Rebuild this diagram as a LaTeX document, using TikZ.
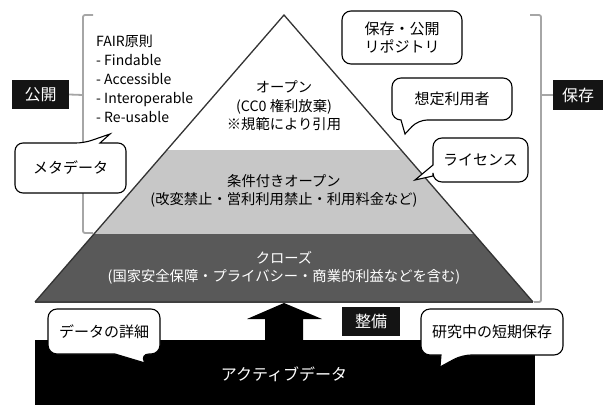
\documentclass[tikz,border=0pt]{standalone}
\usepackage{fontspec}
\setmainfont{Noto Sans CJK JP}
\begin{document}
\begin{tikzpicture}[x=1pt,y=-1pt,
  bracketline/.style={draw=black!35, line width=1.8pt, rounded corners=2pt},
  callout/.style={draw=black, fill=white, line width=1.1pt},
  calltext/.style={font=\fontsize{15}{18.5}\selectfont, align=center, inner sep=0pt},
  bandtext/.style={font=\fontsize{14.3}{18.5}\selectfont, align=center, inner sep=0pt},
  labelbox/.style={fill=black!92, text=white, inner sep=0pt, font=\fontsize{16}{18}\selectfont},
  fairtext/.style={font=\fontsize{14}{19}\selectfont, align=left, anchor=north west, inner sep=0pt}
]
\useasboundingbox (0,0) rectangle (603,405);

% brackets
\draw[bracketline] (93,15) -- (83,15) -- (83,233) -- (93,233);
\draw[bracketline] (530,15) -- (541,15) -- (541,302) -- (534,302);
\node[labelbox, minimum width=57pt, minimum height=29pt] (kokai) at (40.5,94.5) {公開};
\node[labelbox, minimum width=50pt, minimum height=30pt] (hozon) at (578,95) {保存};
\draw[bracketline] (83,95) -- (kokai.east);
\draw[bracketline] (541,95) -- (hozon.west);

% pyramid bands
\fill[black!22] (167,150) -- (401,150) -- (474,234) -- (94,234) -- cycle;
\fill[black!65] (94,234) -- (474,234) -- (533,302) -- (35,302) -- cycle;
\draw[black!75, line width=1.1pt] (35,302) -- (533,302);
\draw[black!80, line width=1.3pt, line join=miter] (35,302) -- (284,15) -- (533,302);

% pyramid texts
\node[bandtext] (open) at (284,106) {オープン\\(CC0 権利放棄)\\※規範により引用};
\node[bandtext] (cond) at (284,191) {条件付きオープン\\(改変禁止・営利利用禁止・利用料金など)};
\node[bandtext, text=white] (close) at (284,268) {クローズ\\(国家安全保障・プライバシー・商業的利益などを含む)};

% FAIR text
\node[fairtext] (fair) at (96,35) {FAIR原則\\- Findable\\- Accessible\\- Interoperable\\- Re-usable};

% active data box and arrow
\fill[black] (35,340) rectangle (535,405);
\node[text=white, font=\fontsize{16}{18}\selectfont, inner sep=0pt] (active) at (284,374) {アクティブデータ};
\coordinate (base) at (284,303);
\fill[black] (265,340) -- (265,319) -- (247,319) -- (base) -- (322,319) -- (303,319) -- (303,340) -- cycle;
\node[labelbox, minimum width=58pt, minimum height=29pt] (seibi) at (371,321.5) {整備};

% callouts
\draw[callout, rounded corners=8pt] (15,168) -- (15,143) -- (84,143) [sharp corners] -- (110,134) -- (100,143) [rounded corners=8pt] -- (126,143) -- (126,193) -- (15,193) -- cycle;
\node[calltext] (meta) at (70.5,168) {メタデータ};

\draw[callout, rounded corners=9pt] (342,11) rectangle (462,64);
\node[calltext] (repo) at (402,37.5) {保存・公開\\リポジトリ};

\draw[callout, rounded corners=9pt] (392,100) -- (392,78) -- (512,78) -- (512,120) -- (418,120) [sharp corners] -- (405,134) -- (401,120) [rounded corners=9pt] -- (392,120) -- cycle;
\node[calltext] (user) at (452,99) {想定利用者};

\draw[callout, rounded corners=9pt] (480,138) -- (528,138) -- (528,182) -- (433,182) [sharp corners] -- (433,176) -- (415,180) -- (433,165) [rounded corners=9pt] -- (433,138) -- cycle;
\node[calltext] (license) at (480.5,160) {ライセンス};

\draw[callout, rounded corners=9pt] (48,330) -- (48,309) -- (160,309) -- (160,354) -- (140,354) [sharp corners] -- (145,363) -- (115,354) [rounded corners=9pt] -- (48,354) -- cycle;
\node[calltext] (detail) at (104,331.5) {データの詳細};

\draw[callout, rounded corners=9pt] (421,330) -- (421,309) -- (563,309) -- (563,355) -- (462,355) [sharp corners] -- (440,367) -- (441,355) [rounded corners=9pt] -- (421,355) -- cycle;
\node[calltext] (short) at (492,332) {研究中の短期保存};

\end{tikzpicture}
\end{document}
